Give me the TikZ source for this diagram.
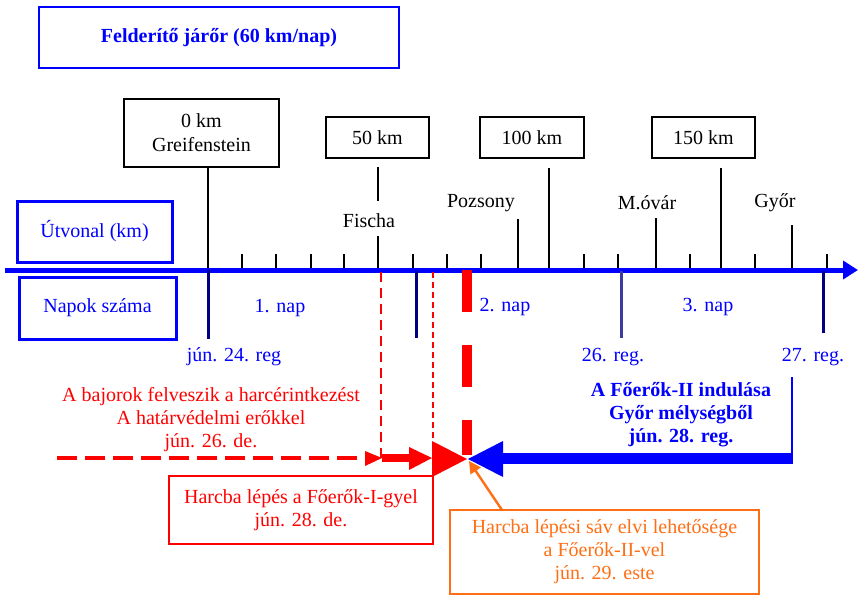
\documentclass[tikz,border=0pt]{standalone}
\usepackage{fontspec}
\setmainfont{Liberation Serif}
\usetikzlibrary{arrows.meta}
\definecolor{navyc}{RGB}{0,0,128}
\definecolor{slatec}{RGB}{60,60,160}
\definecolor{orangec}{RGB}{255,110,20}
\tikzset{
  box/.style={draw, inner sep=0pt, font=\fontsize{10}{11.5}\selectfont},
  bluebox/.style={box, draw=blue, line width=1.5pt, text=blue},
  kmbox/.style={box, draw=black, line width=0.7pt},
  lbl/.style={inner sep=0pt, font=\fontsize{10}{11.5}\selectfont, align=center},
  tickline/.style={draw=black, line width=0.7pt},
  daymark/.style={line width=1.5pt, draw=navyc},
}
\begin{document}
\begin{tikzpicture}[x=0.5pt,y=-0.5pt]
\useasboundingbox (0,0) rectangle (859,596);

% title
\node[bluebox, line width=1pt, minimum width=180pt, minimum height=30.5pt,
      font=\bfseries\fontsize{10}{12}\selectfont] (title) at (219,37.5) {Felderítő járőr (60 km/nap)};

% km boxes
\node[kmbox, minimum width=77.5pt, minimum height=34pt, align=center,
      font=\fontsize{10}{12}\selectfont] (km0) at (201.5,133) {0 km\\Greifenstein};
\node[kmbox, minimum width=51.5pt, minimum height=20.5pt] (km50) at (377.5,137.5) {50 km\hspace{10pt}};
\node[kmbox, minimum width=52pt, minimum height=20.5pt] (km100) at (532,137.5) {100 km\hspace{6pt}};
\node[kmbox, minimum width=51.5pt, minimum height=20.5pt] (km150) at (703.5,137.5) {150 km\hspace{5pt}};

% left boxes
\node[bluebox, minimum width=77.5pt, minimum height=30.5pt] (route) at (94.5,231.5) {Útvonal (km)\hspace{7.5pt}};
\node[bluebox, minimum width=78.5pt, minimum height=31pt] (days) at (97.5,308) {Napok száma\hspace{7.5pt}};

% place labels
\node[lbl] (fischa) at (369,221) {Fischa};
\node[lbl] (pozsony) at (481,203) {Pozsony};
\node[lbl] (movar) at (647,203) {M.óvár};
\node[lbl] (gyor) at (775,203) {Győr};

% axis coordinates
\coordinate (a0) at (5,270);
\coordinate (a1) at (858,270);
\coordinate (g0) at (208,270);
\coordinate (f0) at (378,270);

% connector from 0 km box
\draw[tickline] (km0.south -| g0) -- (g0);
% Fischa line
\draw[tickline] (378,167) -- (378,201);
\draw[tickline] (378,236) -- (f0);

% small ticks
\foreach \x in {242,276,311,344,413,447,481,584,618,690,755,827}
  \draw[tickline] (\x,254) -- (\x,270);
% medium ticks
\draw[tickline] (518,219) -- (518,270);
\draw[tickline] (656,218) -- (656,270);
\draw[tickline] (792,225) -- (792,270);
% tall ticks
\draw[tickline] (549,168) -- (549,270);
\draw[tickline] (721,168) -- (721,270);

% axis
\draw[blue, line width=2.5pt, -{Triangle[length=7.5pt,width=9pt]}] (a0) -- (a1);

% day markers
\draw[daymark] (g0) -- (208,339);
\draw[daymark] (416,271) -- (416,338);
\draw[daymark, draw=slatec] (621,271) -- (621,338);
\draw[daymark] (823,271) -- (823,333);

% day texts
\node[lbl, text=blue] (n1) at (280,308) {1. nap};
\node[lbl, text=blue] (n2) at (505,307) {2. nap};
\node[lbl, text=blue] (n3) at (708,307) {3. nap};
\node[lbl, text=blue] (d24) at (234,357) {jún. 24. reg};
\node[lbl, text=blue] (d26) at (613,357) {26. reg.};
\node[lbl, text=blue] (d27) at (813,357) {27. reg.};

% red dashed verticals
\draw[red, line width=1pt, dash pattern=on 5pt off 3pt] (381,272) -- (381,458);
\draw[red, line width=0.7pt, dash pattern=on 3pt off 2pt] (433,272) -- (433,441);
\draw[red, line width=5pt, dash pattern=on 21pt off 16.5pt] (467,270) -- (467,455);

% meeting point
\coordinate (M) at (467,459);

% red arrow chain
\coordinate (r0) at (57,458);
\coordinate (r1) at (365,458);
\draw[red, line width=2pt, dash pattern=on 10pt off 4pt] (r0) -- (r1);
\fill[red] (365,451) -- (382,458) -- (365,466) -- cycle;
\fill[red] (382,454) rectangle (410,462);
\fill[red] (409,447) -- (432,458) -- (409,470) -- cycle;
\fill[red] (432,441) -- (M) -- (432,477) -- cycle;

% blue arrow
\fill[blue] (793,452.5) rectangle (503,463.5);
\fill[blue] (503,441) -- (468,459) -- (503,477) -- cycle;
\draw[blue, line width=1pt] (792,377) -- (792,458);

% texts
\node[lbl, text=red] (bajor) at (211,420) {A bajorok felveszik a harcérintkezést\\A határvédelmi erőkkel\\jún. 26. de.};
\node[lbl, text=blue, font=\bfseries\fontsize{10}{11.5}\selectfont] (foero) at (681,415) {A Főerők-II indulása\\Győr mélységből\\jún. 28. reg.};

% red box
\node[box, draw=red, text=red, line width=0.8pt, minimum width=132pt, minimum height=34pt, align=center]
  (rbox) at (301,510) {Harcba lépés a Főerők-I-gyel\\jún. 28. de.};

% orange box
\node[box, draw=orangec, text=orangec, line width=1pt, minimum width=154.5pt, minimum height=42pt, align=center]
  (obox) at (604.5,552) {Harcba lépési sáv elvi lehetősége\\a Főerők-II-vel\\jún. 29. este};
\coordinate (o0) at (502,510);
\draw[orangec, line width=1.2pt, -{Triangle[length=6pt,width=6pt]}] (o0) -- (469,461);

\end{tikzpicture}
\end{document}
